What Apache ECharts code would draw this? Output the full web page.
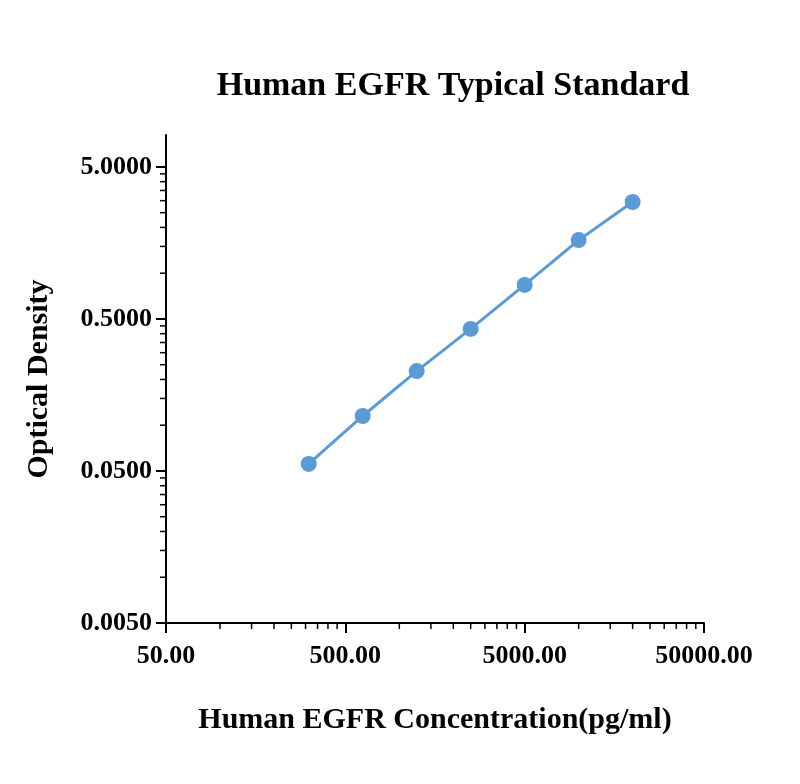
<!DOCTYPE html>
<html><head><meta charset="utf-8">
<script src="https://cdn.jsdelivr.net/npm/echarts@6/dist/echarts.min.js"></script>
<style>body{margin:0;background:#fff}#c{width:800px;height:784px}</style>
</head><body><div id="c"></div>
<script>
var concentrations = [312.5, 625, 1250, 2500, 5000, 10000, 20000];
var densities = [0.0556, 0.115, 0.227, 0.43, 0.837, 1.65, 2.94];
var xBase = 50, yBase = 0.005;
var font = '"Liberation Serif","Times New Roman",serif';

// axes are log10(value/base) so the decades sit on integer ticks
function lx(v) { return Math.log10(v / xBase); }
function ly(v) { return Math.log10(v / yBase); }

var points = concentrations.map(function (c, i) { return [lx(c), ly(densities[i])]; });

// minor log ticks (2..9 within each decade)
var xMinor = [], yMinor = [];
for (var d = 0; d < 3; d++) {
    for (var m = 2; m < 10; m++) {
        xMinor.push(['x', lx(xBase * Math.pow(10, d) * m)]);
    }
}
for (var d = 0; d < 4; d++) {
    for (var m = 2; m < 10; m++) {
        var v = ly(yBase * Math.pow(10, d) * m);
        if (v < 3.21) yMinor.push(['y', v]);
    }
}

var chart = echarts.init(document.getElementById('c'));
chart.setOption({
    animation: false,
    title: {
        text: 'Human EGFR Typical Standard', left: 448, top: 64, textAlign: 'center',
        textStyle: { fontFamily: font, fontSize: 34, fontWeight: 'bold', color: '#000' }
    },
    grid: { left: 166, right: 96, top: 135, bottom: 161 },
    xAxis: {
        type: 'value', min: 0, max: 3, interval: 1,
        name: 'Human EGFR Concentration(pg/ml)', nameLocation: 'middle', nameGap: 82,
        nameTextStyle: { fontFamily: font, fontSize: 30, fontWeight: 'bold', color: '#000' },
        axisLine: { lineStyle: { color: '#000', width: 2 } },
        axisTick: { length: 10, lineStyle: { color: '#000', width: 2 } },
        splitLine: { show: false },
        axisLabel: {
            margin: 20, fontFamily: font, fontSize: 26, fontWeight: 'bold', color: '#000',
            formatter: function (v) { return (xBase * Math.pow(10, v)).toFixed(2); }
        }
    },
    yAxis: {
        type: 'value', min: 0, max: 3.21, interval: 1,
        name: 'Optical Density', nameLocation: 'middle', nameGap: 112,
        nameTextStyle: { fontFamily: font, fontSize: 30, fontWeight: 'bold', color: '#000' },
        axisLine: { show: true, lineStyle: { color: '#000', width: 2 } },
        axisTick: { show: true, length: 10, lineStyle: { color: '#000', width: 2 } },
        splitLine: { show: false },
        axisLabel: {
            showMaxLabel: false, margin: 14, fontFamily: font, fontSize: 26, fontWeight: 'bold', color: '#000',
            formatter: function (v) { return (yBase * Math.pow(10, v)).toFixed(4); }
        }
    },
    series: [{
        type: 'line', data: points, symbol: 'circle', symbolSize: 16,
        lineStyle: { color: '#5b9bd5', width: 3 },
        itemStyle: { color: '#5b9bd5' }
    }, {
        type: 'custom', silent: true, clip: false, data: xMinor.concat(yMinor),
        encode: { x: -1, y: -1 },
        renderItem: function (params, api) {
            var axis = api.value(0), v = api.value(1);
            var p, shape;
            if (axis === 'x') {
                p = api.coord([v, 0]);
                shape = { x1: p[0], y1: p[1], x2: p[0], y2: p[1] + 6 };
            } else {
                p = api.coord([0, v]);
                shape = { x1: p[0], y1: p[1], x2: p[0] - 6, y2: p[1] };
            }
            return { type: 'line', shape: shape, style: { stroke: '#000', lineWidth: 1.5 } };
        }
    }]
});
</script></body></html>
